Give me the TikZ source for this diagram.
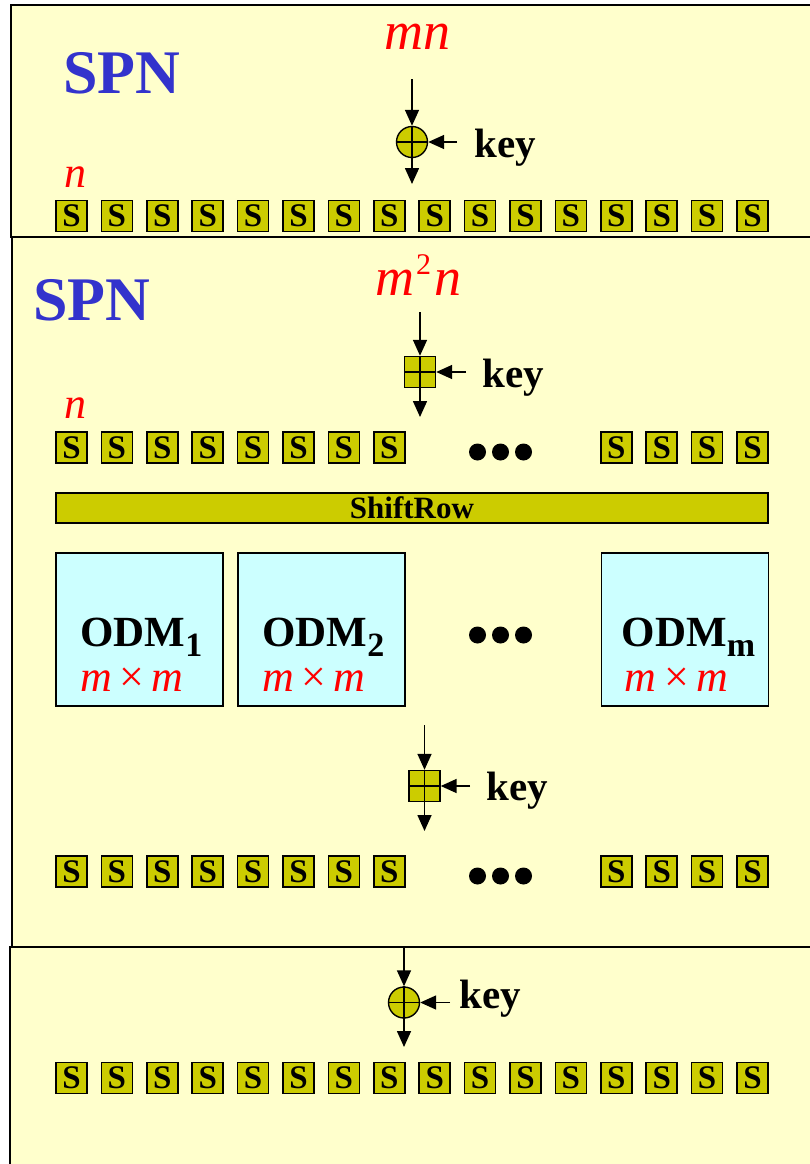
\documentclass[tikz,border=0pt]{standalone}
\usepackage{fontspec}
\setmainfont{Liberation Serif}
\usetikzlibrary{arrows.meta,positioning,calc}
\definecolor{Panel}{HTML}{FFFFCC}
\definecolor{Olive}{HTML}{CCCC00}
\definecolor{Aqua}{HTML}{CCFFFF}
\definecolor{SpnBlue}{HTML}{3333CC}
\newcommand{\fsz}[1]{\fontsize{#1}{#1}\selectfont}

\begin{document}
\begin{tikzpicture}[x=1pt,y=-1pt,>={Triangle[length=16pt,width=14pt]},
  panel/.style={draw,line width=1.6pt,fill=Panel},
  sbox/.style={draw,line width=1.5pt,fill=Olive,minimum size=31pt,inner sep=0pt,font=\fsz{33}\bfseries},
  xorop/.style={circle,draw,line width=1.4pt,fill=Olive,minimum size=31pt,inner sep=0pt},
  addop/.style={draw,line width=1.4pt,fill=Olive,minimum size=31pt,inner sep=0pt},
  odm/.style={draw,line width=1.6pt,fill=Aqua,minimum width=167pt,minimum height=153pt,inner sep=0pt},
  flow/.style={->,line width=1.6pt},
  keytxt/.style={anchor=base west,inner sep=0pt,font=\fsz{41}\bfseries},
  spn/.style={anchor=base west,inner sep=0pt,text=SpnBlue,font=\fsz{62}\bfseries},
  redlbl/.style={anchor=base west,inner sep=0pt,text=red,font=\fsz{54}\itshape},
  odmtxt/.style={anchor=base west,inner sep=0pt,font=\fsz{43}\bfseries},
  dimtxt/.style={anchor=base west,inner sep=0pt,text=red,font=\fsz{44}\itshape},
  dot/.style={circle,fill=black,minimum size=17pt,inner sep=0pt}]
  \clip (0,0) rectangle (810,1164);
  \fill[white] (0,0) rectangle (810,1164);

  % three round panels
  \draw[panel] (11,5) rectangle (830,237);
  \draw[panel] (12,237) rectangle (830,947);
  \draw[panel] (10,947) rectangle (830,1180);

  % first SPN round
  \node[spn] (spn1) at (63,93) {SPN};
  \node[redlbl] (w1) at (384,50) {mn};
  \node[redlbl,font=\fsz{44}\itshape] (n1) at (64,187) {n};
  \node[xorop] (x1) at (412,142) {};
  \draw[line width=1.4pt] (x1.north) -- (x1.south) (x1.west) -- (x1.east);
  \coordinate (t1) at (412,79);
  \coordinate (b1) at (412,184);
  \coordinate (k1) at (457,142);
  \draw[flow] (t1) -- (x1);
  \draw[flow] (x1) -- (b1);
  \draw[flow] (k1) -- (x1);
  \node[keytxt] (kl1) at (474,157) {key};
  \foreach \i in {0,...,15}
    \node[sbox] (a\i) at ({71.5+45.4*\i},216) {S};

  % second SPN round
  \node[spn] (spn2) at (33,320) {SPN};
  \node[redlbl] (w2) at (375,295) {m\kern2pt\raisebox{21pt}{\fsz{30}\upshape 2}\kern3pt n};
  \node[redlbl,font=\fsz{44}\itshape] (n2) at (64,418) {n};
  \node[addop] (p1) at (420,372) {};
  \draw[line width=1.4pt] (p1.north) -- (p1.south) (p1.west) -- (p1.east);
  \coordinate (t2) at (420,312);
  \coordinate (b2) at (420,417);
  \coordinate (k2) at (466,372);
  \draw[flow] (t2) -- (p1);
  \draw[flow] (p1) -- (b2);
  \draw[flow] (k2) -- (p1);
  \node[keytxt] (kl2) at (482,387) {key};
  \foreach \i in {0,...,7,12,13,14,15}
    \node[sbox] (b\i) at ({71.5+45.4*\i},447.5) {S};
  \foreach \d in {0,1,2}
    \node[dot] (e\d) at ({477.5+23*\d},452) {};

  \node[draw,line width=1.5pt,fill=Olive,minimum width=712pt,minimum height=30pt,inner sep=0pt,font=\fsz{31}\bfseries] (shift) at (412,508) {ShiftRow};

  \node[odm] (odm1) at (139.5,629.5) {};
  \node[odm] (odm2) at (321.5,629.5) {};
  \node[odm] (odmm) at (685,629.5) {};
  \node[odmtxt] (o1t) at ($(odm1.west)+(25,16.5)$) {ODM\raisebox{-10pt}{\fsz{34}1}};
  \node[odmtxt] (o2t) at ($(odm2.west)+(25,16.5)$) {ODM\raisebox{-10pt}{\fsz{34}2}};
  \node[odmtxt] (omt) at ($(odmm.west)+(21,16.5)$) {ODM\raisebox{-10pt}{\fsz{34}m}};
  \node[dimtxt] (o1d) at ($(odm1.west)+(25,61.5)$) {m\,{\upshape ×}\,m};
  \node[dimtxt] (o2d) at ($(odm2.west)+(25,61.5)$) {m\,{\upshape ×}\,m};
  \node[dimtxt] (omd) at ($(odmm.west)+(24,61.5)$) {m\,{\upshape ×}\,m};
  \foreach \d in {0,1,2}
    \node[dot] (f\d) at ({477.5+23*\d},635) {};

  \node[addop] (p2) at (424.5,786) {};
  \draw[line width=1.4pt] (p2.north) -- (p2.south) (p2.west) -- (p2.east);
  \coordinate (t3) at (424.5,725);
  \coordinate (b3) at (424.5,831);
  \coordinate (k3) at (470,786);
  \draw[flow] (t3) -- (p2);
  \draw[flow] (p2) -- (b3);
  \draw[flow] (k3) -- (p2);
  \node[keytxt] (kl3) at (486,800) {key};
  \foreach \i in {0,...,7,12,13,14,15}
    \node[sbox] (c\i) at ({71.5+45.4*\i},871.5) {S};
  \foreach \d in {0,1,2}
    \node[dot] (g\d) at ({477.5+23*\d},876) {};

  % last round
  \node[xorop] (x2) at (404,1002.5) {};
  \draw[line width=1.4pt] (x2.north) -- (x2.south) (x2.west) -- (x2.east);
  \coordinate (t4) at (404,947);
  \coordinate (b4) at (404,1047);
  \coordinate (k4) at (450,1002.5);
  \draw[flow] (t4) -- (x2);
  \draw[flow] (x2) -- (b4);
  \draw[flow] (k4) -- (x2);
  \node[keytxt] (kl4) at (459,1008) {key};
  \foreach \i in {0,...,15}
    \node[sbox] (d\i) at ({71.5+45.4*\i},1078) {S};
\end{tikzpicture}
\end{document}
